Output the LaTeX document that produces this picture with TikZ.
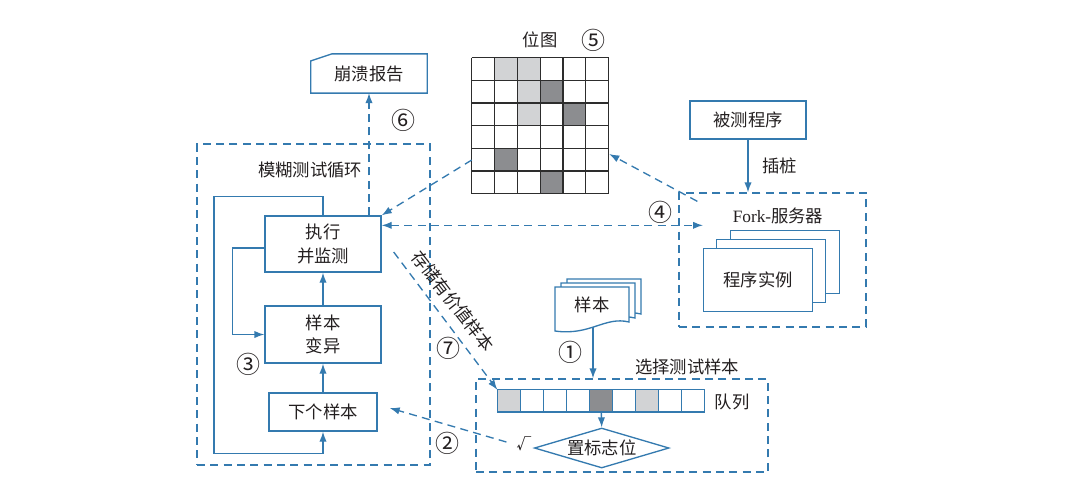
\documentclass[tikz,border=0pt]{standalone}
\usepackage{fontspec}
\setmainfont{Liberation Serif}
\newfontfamily\cjk{Noto Sans CJK SC}
\usetikzlibrary{arrows.meta,calc,positioning,shapes.geometric}
\definecolor{fzblue}{RGB}{52,122,175}
\definecolor{fztext}{RGB}{35,31,32}
\definecolor{lgrey}{RGB}{210,211,213}
\definecolor{dgrey}{RGB}{140,141,144}
\definecolor{gridline}{RGB}{45,45,45}
\tikzset{
	box/.style={draw=fzblue, line width=1pt, text=fztext, align=center, inner sep=0pt},
	dbox/.style={draw=fzblue, line width=1pt, dash pattern=on 6pt off 4pt},
	flow/.style={draw=fzblue, line width=1pt, ->},
	dflow/.style={flow, dash pattern=on 6pt off 4pt},
	lbl/.style={text=fztext, inner sep=0pt},
	num/.style={lbl, font=\cjk\fontsize{18pt}{18pt}\selectfont},
}

\begin{document}
\begin{tikzpicture}[x=0.75pt, y=-0.75pt, >={Latex[length=7.5pt,width=5.5pt]}, font=\cjk\fontsize{13pt}{17.5pt}\selectfont]
	\useasboundingbox (0,0) rectangle (1080,487);

	% bitmap
	\node (bitmap) [minimum width=102.75pt, minimum height=102pt, inner sep=0pt] at (540.5,126) {};
	\foreach \row/\col/\shade in {0/1/lgrey, 0/2/lgrey, 1/2/lgrey, 1/3/dgrey, 2/2/lgrey, 2/4/dgrey, 4/1/dgrey, 5/3/dgrey}
		\fill [\shade] ($(bitmap.north west)+(\col*22.83,\row*22.67)$) rectangle +(22.83,22.67);
	\foreach \i in {0,...,6} {
		\draw [gridline, line width=0.9pt] ($(bitmap.north west)+(\i*22.83,0)$) -- +(0,136);
		\draw [gridline, line width=0.9pt] ($(bitmap.north west)+(0,\i*22.67)$) -- +(137,0);
	}
	\node (bitmaplbl) [lbl] at (540,40) {位图};
	\node (n5) [num] at (593,40) {⑤};

	% crash report
	\node (crash) [lbl, minimum width=87pt, minimum height=29pt] at (369,73.5) {崩溃报告};
	\draw [fzblue, line width=1pt] (crash.south west) -- ($(crash.north west)+(0,7)$) -- ($(crash.north west)+(21,0)$) -- (crash.north east) -- (crash.south east) -- cycle;

	% fuzzing loop
	\node (loop) [dbox, minimum width=174.75pt, minimum height=240.75pt] at (313.5,304.5) {};
	\node (looplbl) [lbl] at (310,170) {模糊测试循环};
	\node (exec) [box, minimum width=87pt, minimum height=42pt] at (323,244) {执行\\并监测};
	\node (mutate) [box, minimum width=87pt, minimum height=42.75pt] at (323,334.5) {样本\\变异};
	\node (next) [box, minimum width=81pt, minimum height=28.5pt] at (323,412) {下个样本};
	\node (n3) [num] at (248,364) {③};
	\draw [flow] (next) -- (mutate);
	\draw [flow] (mutate) -- (exec);
	\draw [flow] ($(exec.west)+(0,4)$) -- ++(-32,0) |- (mutate.west);
	\draw [flow] (exec.north) -- ++(0,-19) -| ++(-109,257) -| (next.south);

	% fork server
	\node (prog) [box, minimum width=87pt, minimum height=28.5pt] at (748,120) {被测程序};
	\node (fork) [dbox, minimum width=140.25pt, minimum height=100.5pt] at (772.5,260) {};
	\node (forklbl) [lbl] at (778,216) {{\rmfamily Fork-}服务器};
	\node (inst3) [box, fill=white, minimum width=81.5pt, minimum height=47.5pt] at (785,262) {};
	\node (inst2) [box, fill=white, minimum width=81.5pt, minimum height=47.5pt] at (771,271) {};
	\node (inst) [box, fill=white, minimum width=81.5pt, minimum height=47.5pt] at (758,280) {程序实例};
	\draw [flow] (prog) -- (prog.south |- fork.north) node [lbl, midway, right=10pt] {插桩};

	% samples and queue
	\foreach \sx/\sy in {12/-8, 6/-4, 0/0}
		\draw [fzblue, line width=1pt, fill=white, shift={(\sx,\sy)}] (555,287) -- (629,287) -- (629,322) .. controls (605,316) and (590,336) .. (555,331) -- cycle;
	\node (sample) [lbl] at (592,305) {样本};
	\coordinate (docbot) at (593,327);
	\node (sel) [dbox, minimum width=219pt, minimum height=69.75pt] at (622,425.5) {};
	\node (sellbl) [lbl] at (687,367) {选择测试样本};
	\draw [flow] (docbot) -- (docbot |- sel.north);
	\node (n1) [num] at (570,352) {①};
	\node (queue) [minimum width=155.5pt, minimum height=16.7pt, inner sep=0pt] at (601.3,401.2) {};
	\foreach \i/\shade in {0/lgrey, 4/dgrey, 6/lgrey}
		\fill [\shade] ($(queue.north west)+(\i*23.03,0)$) rectangle +(23.03,22.3);
	\foreach \i in {0,...,8}
		\draw [fzblue, line width=1pt] ($(queue.north west)+(\i*23.03,0)$) rectangle +(23.03,22.3);
	\node (queuelbl) [lbl] at (732,402) {队列};
	\node (flag) [box, diamond, aspect=3.4, minimum width=101pt, minimum height=30pt] at (601.7,448) {置标志位};
	\draw [flow] (queue.south) -- (flag.north);
	\node (check) [lbl, font=\cjk\bfseries\fontsize{11pt}{11pt}\selectfont] at (524,444) {√};

	% dashed connections
	\draw [dflow] ($(check.west)+(-10,-2)$) -- ($(next.east)+(12,-4)$);
	\node (n2) [num] at (447,443) {②};
	\draw [dflow] ($(exec.east)+(12,8)$) -- (queue.north west);
	\node (store) [lbl, rotate=-52] at (453,301) {存储有价值样本};
	\node (n7) [num] at (448,348) {⑦};
	\draw [dflow] ($(bitmap.west)+(0,34)$) -- (exec.north east);
	\draw [dflow] ($(fork.north west)+(19,9)$) -- ($(bitmap.east)+(0,28)$);
	\coordinate (execr) at ($(exec.north east)+(0,10)$);
	\draw [dflow, <->] (execr) -- (execr -| inst.west);
	\node (n4) [num] at (660,212) {④};
	\draw [dflow] (crash.south |- exec.north) -- (crash.south);
	\node (n6) [num] at (403,120) {⑥};
\end{tikzpicture}
\end{document}
